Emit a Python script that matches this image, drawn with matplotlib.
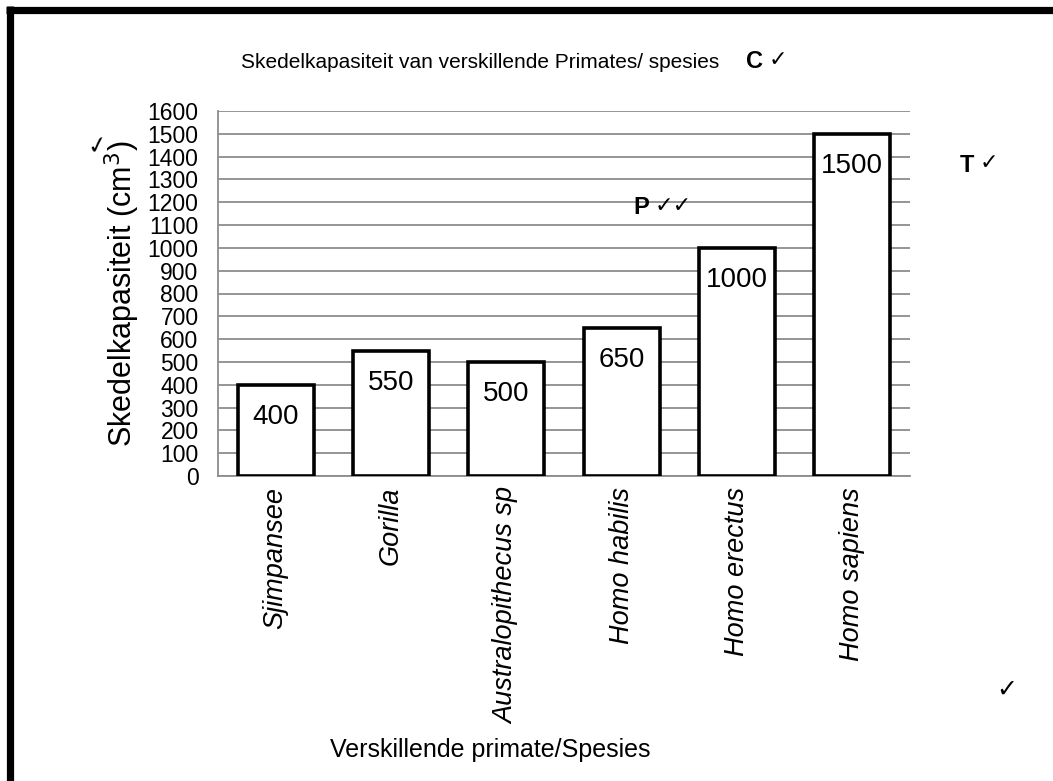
import matplotlib
matplotlib.use("Agg")
import matplotlib.pyplot as plt
from matplotlib.lines import Line2D

plt.rcParams['font.family'] = ['Liberation Sans', 'DejaVu Sans']

spesies = ['Sjimpansee', 'Gorilla', 'Australopithecus sp',
           'Homo habilis', 'Homo erectus', 'Homo sapiens']
kapasiteit = [400, 550, 500, 650, 1000, 1500]
y_ticks = list(range(0, 1700, 100))

W, H = 1053, 781
fig = plt.figure(figsize=(W / 100, H / 100), dpi=100)
ax = fig.add_axes([218 / W, 1 - 476 / H, (910 - 218) / W, (476 - 111) / H])

x = range(len(spesies))
bars = ax.bar(x, kapasiteit, width=0.66, color='white', edgecolor='black',
              linewidth=2.6, zorder=3)

# waardes binne die stawe
for b, v in zip(bars, kapasiteit):
    ax.annotate(str(v), (b.get_x() + b.get_width() / 2, v),
                xytext=(0, -32), textcoords='offset pixels',
                ha='center', va='center', fontsize=20, zorder=4)

ax.set_ylim(0, 1600)
ax.set_xlim(-0.5, len(spesies) - 0.5)
ax.set_yticks(y_ticks)
ax.set_yticklabels([str(t) for t in y_ticks], fontsize=16.5)
ax.set_xticks(list(x))
ax.set_xticklabels(spesies, rotation=90, fontstyle='italic', fontsize=19.5)
ax.tick_params(axis='y', length=0, pad=14)
ax.tick_params(axis='x', length=0, pad=8)
ax.yaxis.grid(True, color='#8c8c8c', linewidth=1.3, zorder=0)
ax.set_axisbelow(True)

for s in ['top', 'right']:
    ax.spines[s].set_visible(False)
for s in ['left', 'bottom']:
    ax.spines[s].set_color('#8c8c8c')
    ax.spines[s].set_linewidth(1.3)

ax.set_ylabel('Skedelkapasiteit (cm$^3$)', fontsize=22, labelpad=4)
fig.text(490 / W, 1 - 750 / H, 'Verskillende primate/Spesies',
         ha='center', va='center', fontsize=18)
fig.text(480 / W, 1 - 62 / H, 'Skedelkapasiteit van verskillende Primates/ spesies',
         ha='center', va='center', fontsize=15)

# merk-tekens
fig.text(746 / W, 1 - 62 / H, 'C', ha='left', va='center', fontsize=17, fontweight='bold')
fig.text(769 / W, 1 - 60 / H, '✓', ha='left', va='center', fontsize=16,
         family=['DejaVu Sans'])
fig.text(960 / W, 1 - 165 / H, 'T', ha='left', va='center', fontsize=17, fontweight='bold')
fig.text(980 / W, 1 - 163 / H, '✓', ha='left', va='center', fontsize=16,
         family=['DejaVu Sans'])
fig.text(633 / W, 1 - 208 / H, 'P', ha='left', va='center', fontsize=17, fontweight='bold')
fig.text(655 / W, 1 - 206 / H, '✓✓', ha='left', va='center', fontsize=16,
         family=['DejaVu Sans'])
fig.text(1007 / W, 1 - 690 / H, '✓', ha='center', va='center', fontsize=18,
         family=['DejaVu Sans'])
fig.text(97 / W, 1 - 145 / H, '✓', ha='center', va='center', fontsize=17,
         rotation=10, family=['DejaVu Sans'])

# swart raam
fig.add_artist(Line2D([6 / W, 1], [1 - 9.5 / H, 1 - 9.5 / H], color='black',
                      linewidth=5.2, transform=fig.transFigure, solid_capstyle='butt'))
fig.add_artist(Line2D([9.5 / W, 9.5 / W], [1 - 6 / H, 0], color='black',
                      linewidth=5.2, transform=fig.transFigure, solid_capstyle='butt'))

fig.savefig('out.png', dpi=100)
